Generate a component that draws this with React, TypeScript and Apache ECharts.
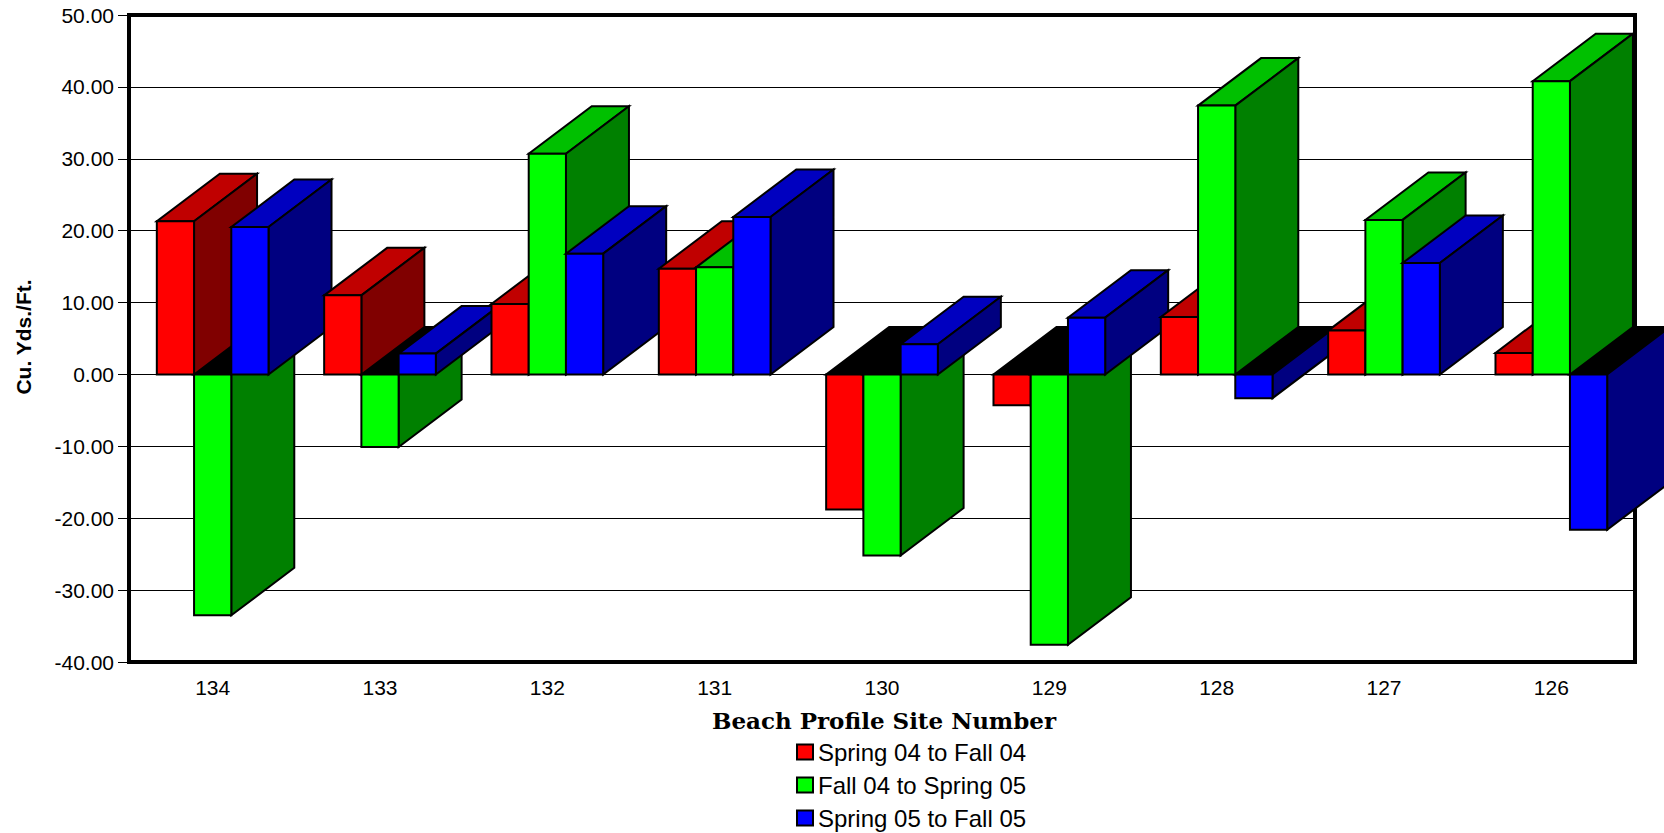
import React, { useEffect, useRef } from "react";
import * as echarts from "echarts";

const categories = ["134", "133", "132", "131", "130", "129", "128", "127", "126"];
const seriesNames = ["Spring 04 to Fall 04", "Fall 04 to Spring 05", "Spring 05 to Fall 05"];
const spring04ToFall04 = [21.3, 11.0, 9.8, 14.7, -18.8, -4.3, 8.0, 6.1, 3.0];
const fall04ToSpring05 = [-33.5, -10.1, 30.7, 14.9, -25.2, -37.6, 37.4, 21.5, 40.8];
const spring05ToFall05 = [20.5, 2.9, 16.8, 21.9, 4.2, 7.9, -3.3, 15.5, -21.6];
const yMin = -40;
const yMax = 50;
const yInterval = 10;
const yTitle = "Cu. Yds./Ft.";
const xTitle = "Beach Profile Site Number";

const allSeries = [spring04ToFall04, fall04ToSpring05, spring05ToFall05];
const faceColors = [
  { front: "#FF0000", top: "#C00000", side: "#800000" },
  { front: "#00FF00", top: "#00C000", side: "#008000" },
  { front: "#0000FF", top: "#0000C0", side: "#000080" },
];
const DX = 63;
const DY = -47.5;
const BAR_FRACTION = 0.2225;
const SANS = "'Liberation Sans', Arial, sans-serif";

function makeRenderItem(s: number) {
  return (params: any, api: any) => {
    const c = api.value(0);
    const v = api.value(1);
    const base = api.coord([c, 0]);
    const end = api.coord([c, v]);
    const band = api.size([1, 0])[0];
    const bw = band * BAR_FRACTION;
    const x0 = base[0] - 1.5 * bw + s * bw;
    const x1 = x0 + bw;
    const yb = base[1];
    const yv = end[1];
    const vals = allSeries.map((a) => a[c]);
    const idx = [0, 1, 2];
    const order = idx.filter((i) => vals[i] < 0).concat(idx.filter((i) => vals[i] >= 0));
    const rank = order.indexOf(s);
    const zb = c * 100 + rank * 10;
    const col = faceColors[s];
    const yTop = Math.min(yb, yv);
    const yBot = Math.max(yb, yv);
    const stroke = { stroke: "#000", lineWidth: 2, lineJoin: "miter" };
    return {
      type: "group",
      children: [
        {
          type: "polygon",
          z2: zb + 1,
          shape: {
            points: [
              [x0, yTop],
              [x1, yTop],
              [x1 + DX, yTop + DY],
              [x0 + DX, yTop + DY],
            ],
          },
          style: { fill: v >= 0 ? col.top : "#000", ...stroke },
        },
        {
          type: "polygon",
          z2: zb + 2,
          shape: {
            points: [
              [x1, yTop],
              [x1 + DX, yTop + DY],
              [x1 + DX, yBot + DY],
              [x1, yBot],
            ],
          },
          style: { fill: col.side, ...stroke },
        },
        {
          type: "rect",
          z2: zb + 3,
          shape: { x: x0, y: yTop, width: bw, height: yBot - yTop },
          style: { fill: col.front, ...stroke },
        },
      ],
    };
  };
}

export default function App() {
  const ref = useRef<HTMLDivElement>(null);
  useEffect(() => {
    if (!ref.current) return;
    const chart = echarts.init(ref.current, undefined, { renderer: "svg" });
    chart.setOption({
      animation: false,
      backgroundColor: "#fff",
      grid: {
        left: 129,
        right: 29,
        top: 15,
        bottom: 171,
        show: true,
        borderColor: "#000",
        borderWidth: 4,
        backgroundColor: "transparent",
      },
      xAxis: {
        type: "category",
        data: categories,
        axisLine: { show: false },
        axisTick: { show: false },
        splitLine: { show: false },
        axisLabel: { color: "#000", fontFamily: SANS, fontSize: 21, margin: 15 },
      },
      yAxis: {
        type: "value",
        min: yMin,
        max: yMax,
        interval: yInterval,
        axisLine: { show: false },
        axisTick: { show: true, length: 11, lineStyle: { color: "#000", width: 1 } },
        splitLine: { show: true, lineStyle: { color: "#000", width: 1 } },
        axisLabel: {
          color: "#000",
          fontFamily: SANS,
          fontSize: 21,
          margin: 15,
          formatter: (val: number) => val.toFixed(2),
        },
      },
      legend: {
        orient: "vertical",
        left: 796,
        top: 740,
        padding: 0,
        itemGap: 9,
        itemWidth: 16,
        itemHeight: 15,
        icon: "rect",
        data: seriesNames,
        itemStyle: { borderColor: "#000", borderWidth: 2 },
        textStyle: { fontFamily: SANS, fontSize: 24, color: "#000" },
      },
      graphic: [
        {
          type: "text",
          x: 23,
          y: 337,
          rotation: Math.PI / 2,
          style: {
            text: yTitle,
            fill: "#000",
            font: "bold 21px 'Liberation Sans', Arial, sans-serif",
            textAlign: "center",
            textVerticalAlign: "middle",
          },
        },
        {
          type: "text",
          x: 884,
          y: 720,
          style: {
            text: xTitle,
            fill: "#000",
            font: "bold 23px 'DejaVu Serif', serif",
            textAlign: "center",
            textVerticalAlign: "middle",
          },
        },
      ],
      series: allSeries.map((vals, s) => ({
        type: "custom",
        name: seriesNames[s],
        itemStyle: { color: faceColors[s].front },
        encode: { x: 0, y: 1 },
        data: vals.map((v, i) => [i, v]),
        renderItem: makeRenderItem(s),
      })),
    });
    return () => chart.dispose();
  }, []);
  return (
    <div
      ref={ref}
      style={{ position: "fixed", left: 0, top: 0, width: 1664, height: 833, background: "#fff" }}
    />
  );
}
